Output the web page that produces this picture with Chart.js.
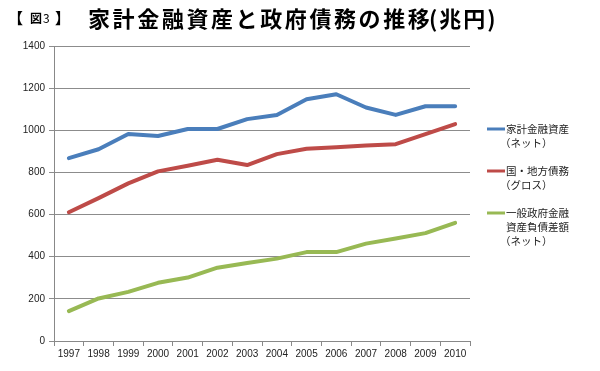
<!DOCTYPE html>
<html>
<head>
<meta charset="utf-8">
<script src="https://cdn.jsdelivr.net/npm/chart.js"></script>
<style>
  body { margin: 0; background: #fff; }
  #wrap { width: 600px; height: 371px; position: relative; }
</style>
</head>
<body>
<div id="wrap"><canvas id="debtChart"></canvas></div>
<script>
const years = ['1997', '1998', '1999', '2000', '2001', '2002', '2003', '2004', '2005', '2006', '2007', '2008', '2009', '2010'];
const householdAssets = [868, 910, 982, 973, 1006, 1006, 1053, 1073, 1147, 1171, 1108, 1073, 1114, 1114];
const govDebt = [611, 678, 748, 805, 832, 860, 835, 887, 912, 919, 928, 934, 982, 1029];
const govNetDebt = [142, 202, 233, 276, 301, 348, 370, 391, 422, 422, 462, 486, 512, 561];
const seriesLabels = ['家計金融資産\n（ネット）', '国・地方債務\n（グロス）', '一般政府金融\n資産負債差額\n（ネット）'];
const yTicks = [0, 200, 400, 600, 800, 1000, 1200, 1400];

const cjk = '"Noto Sans CJK JP", "Noto Sans", sans-serif';

// title and multi-line legend drawn by hand
const decor = {
  id: 'decor',
  afterDraw(chart) {
    const c = chart.ctx;
    c.save();
    c.fillStyle = '#000';
    c.textBaseline = 'alphabetic';
    c.font = 'bold 15px ' + cjk;
    c.fillText('【', 8, 24);
    c.fillText('】', 55, 24);
    c.font = 'bold 12px ' + cjk;
    c.fillText('図', 30, 23);
    c.font = '12px ' + cjk;
    c.fillText('3', 43, 23);

    c.font = 'bold 22px ' + cjk;
    c.letterSpacing = '2.6px';
    c.fillText('家計金融資産と政府債務の推移', 88, 27);
    c.letterSpacing = '2px';
    c.fillText('(兆円)', 429, 27);
    c.letterSpacing = '0px';

    const tops = [129, 171, 213];
    chart.data.datasets.forEach((ds, i) => {
      const y = tops[i];
      c.strokeStyle = ds.borderColor;
      c.lineWidth = 3;
      c.beginPath();
      c.moveTo(487, y);
      c.lineTo(505, y);
      c.stroke();
      c.fillStyle = '#222';
      c.font = '10.5px ' + cjk;
      c.textBaseline = 'middle';
      ds.label.split('\n').forEach((line, j) => {
        c.fillText(line, line.startsWith('（') ? 500 : 506, y + j * 14);
      });
    });
    c.restore();
  }
};

new Chart(document.getElementById('debtChart'), {
  type: 'line',
  data: {
    labels: years,
    datasets: [
      { label: seriesLabels[0], data: householdAssets, borderColor: '#4a7ebb' },
      { label: seriesLabels[1], data: govDebt, borderColor: '#be4b48' },
      { label: seriesLabels[2], data: govNetDebt, borderColor: '#98b954' }
    ]
  },
  options: {
    responsive: true,
    maintainAspectRatio: false,
    animation: false,
    layout: { padding: { top: 46, right: 130, left: 0, bottom: 0 } },
    elements: {
      line: { borderWidth: 4, tension: 0, borderCapStyle: 'round', borderJoinStyle: 'round' },
      point: { radius: 0 }
    },
    scales: {
      x: {
        offset: true,
        grid: { offset: true, drawOnChartArea: false, drawTicks: true, tickLength: 5, color: '#888' },
        border: { color: '#888' },
        ticks: { color: '#222', font: { family: 'Liberation Sans', size: 10 }, maxRotation: 0, autoSkip: false, padding: 2 },
        afterFit(s) { s.height = 30; }
      },
      y: {
        min: 0,
        max: 1400,
        afterBuildTicks(s) { s.ticks = yTicks.map(v => ({ value: v })); },
        grid: { color: '#8c8c8c', tickLength: 5 },
        border: { color: '#888' },
        ticks: { color: '#222', font: { family: 'Liberation Sans', size: 10 }, padding: 4, callback: v => String(v) },
        afterFit(s) { s.width = 54; }
      }
    },
    plugins: {
      legend: { display: false },
      tooltip: { enabled: false }
    }
  },
  plugins: [decor]
});
</script>
</body>
</html>
